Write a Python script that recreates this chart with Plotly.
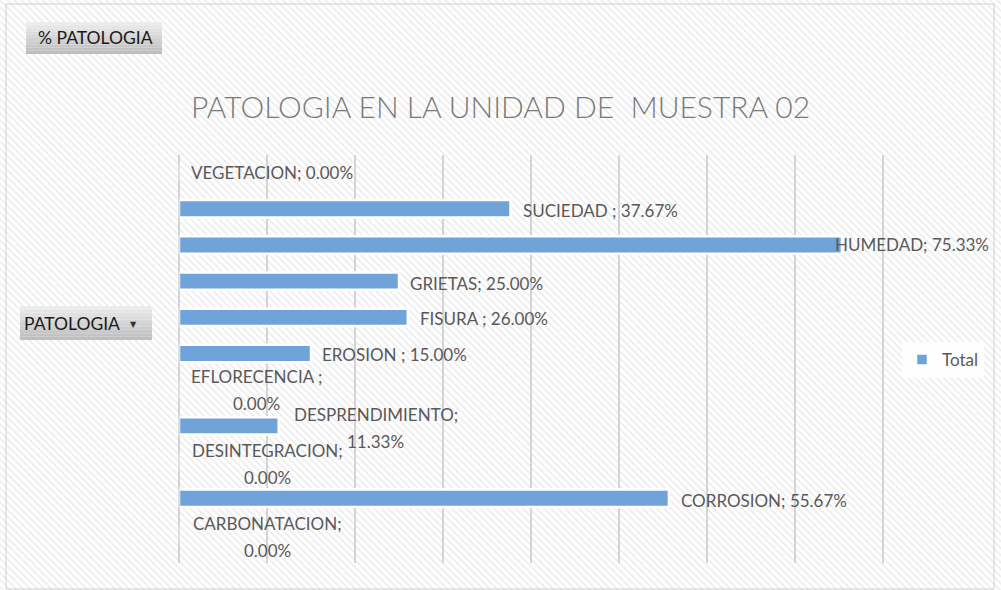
import plotly.graph_objects as go

# ---- data ----
categories = ["CARBONATACION", "CORROSION", "DESINTEGRACION", "DESPRENDIMIENTO",
              "EFLORECENCIA", "EROSION", "FISURA", "GRIETAS", "HUMEDAD",
              "SUCIEDAD", "VEGETACION"]
values = [0.00, 55.67, 0.00, 11.33, 0.00, 15.00, 26.00, 25.00, 75.33, 37.67, 0.00]
label_names = ["CARBONATACION;", "CORROSION;", "DESINTEGRACION;", "DESPRENDIMIENTO;",
               "EFLORECENCIA ;", "EROSION ;", "FISURA ;", "GRIETAS;", "HUMEDAD;",
               "SUCIEDAD ;", "VEGETACION;"]
series_name = "Total"
title_text = "PATOLOGIA EN LA UNIDAD DE  MUESTRA 02"
value_field = "% PATOLOGIA"
category_field = "PATOLOGIA"

# ---- label placement (style only) ----
# (two_lines, xshift_px, yshift_px)
label_style = {
    "CARBONATACION": (True, 88, -2),
    "CORROSION": (False, 10, -2),
    "DESINTEGRACION": (True, 88, -2),
    "DESPRENDIMIENTO": (True, 97, -2),
    "EFLORECENCIA": (True, 77, 0),
    "EROSION": (False, 9, -1),
    "FISURA": (False, 10, -1),
    "GRIETAS": (False, 9, -2),
    "HUMEDAD": (False, -9, 0),
    "SUCIEDAD": (False, 10, -2),
    "VEGETACION": (False, 10, 0),
}

W, H = 1001, 590
FONT = "Lato"
TXT = "#595959"
FS = 17
PAD = 0.25          # small axis padding so edge gridlines are not clipped
PX_PER_UNIT = 8.8
GRID = "#d4d4d4"
Y_DOM = [1 - 562.5 / H, 1 - 154.5 / H]

def px_x(p):
    return p / W

def px_y(p):
    return 1 - p / H

fig = go.Figure()

# hatched background (on the full-page axes)
fig.add_trace(go.Bar(
    x=[0.5], y=[1], width=[1], base=[0], xaxis="x", yaxis="y",
    marker=dict(color="white", line=dict(width=0),
                pattern=dict(shape="\\", fgcolor="#dcdcdc", bgcolor="white",
                             size=5, solidity=0.35)),
    hoverinfo="skip", showlegend=False,
))

# data bars
fig.add_trace(go.Bar(
    x=values, y=categories, orientation="h", name=series_name,
    xaxis="x2", yaxis="y2", width=0.48,
    marker=dict(color="#6fa3da", line=dict(color="white", width=2.5)),
    showlegend=True,
))

annotations = []
for cat, name, v in zip(categories, label_names, values):
    two, xs, ys = label_style[cat]
    vtxt = f"{v:.2f}%"
    if two:
        for txt, dy in ((name, 13.5), (vtxt, -13.5)):
            annotations.append(dict(
                x=v, y=cat, xref="x2", yref="y2", text=txt, showarrow=False,
                xanchor="center", yanchor="middle", xshift=xs, yshift=ys + dy,
                font=dict(family=FONT, size=FS, color=TXT)))
    else:
        annotations.append(dict(
            x=v, y=cat, xref="x2", yref="y2", text=f"{name} {vtxt}", showarrow=False,
            xanchor="left", yanchor="middle", xshift=xs, yshift=ys,
            font=dict(family=FONT, size=FS, color=TXT)))

# pivot field buttons
shapes = []
def button(x0, y0, x1, y1):
    n = 10
    for i in range(n):
        t = i / (n - 1)
        c = int(236 - t * 46)
        shapes.append(dict(type="rect", xref="paper", yref="paper",
                           x0=px_x(x0), x1=px_x(x1),
                           y0=px_y(y0 + (y1 - y0) * (i + 1) / n),
                           y1=px_y(y0 + (y1 - y0) * i / n),
                           fillcolor=f"rgb({c},{c},{c})", line=dict(width=0), layer="above"))

button(26, 22, 162, 54)
button(20, 306, 152, 340)

annotations.append(dict(x=px_x(95), y=px_y(38), xref="paper", yref="paper",
                        text=value_field, showarrow=False, xanchor="center", yanchor="middle",
                        font=dict(family=FONT, size=FS + 0.5, color="#1a1a1a")))
annotations.append(dict(x=px_x(22), y=px_y(323), xref="paper", yref="paper",
                        text=category_field, showarrow=False, xanchor="left", yanchor="middle",
                        font=dict(family=FONT, size=FS + 0.5, color="#1a1a1a")))
annotations.append(dict(x=px_x(133), y=px_y(324), xref="paper", yref="paper",
                        text="\u25BC", showarrow=False, xanchor="center", yanchor="middle",
                        font=dict(family="DejaVu Sans", size=8, color="#333333")))

# value axis line at 0
shapes.append(dict(type="line", xref="x2", yref="paper", x0=0, x1=0,
                   y0=Y_DOM[0], y1=Y_DOM[1], line=dict(color=GRID, width=1.5), layer="above"))

# outer chart border
shapes.append(dict(type="rect", xref="paper", yref="paper",
                   x0=px_x(6), x1=px_x(994), y0=px_y(589), y1=px_y(4),
                   line=dict(color="#d0d0d0", width=1), fillcolor="rgba(0,0,0,0)", layer="above"))

fig.update_layout(
    width=W, height=H, margin=dict(l=0, r=0, t=0, b=0),
    paper_bgcolor="white", plot_bgcolor="rgba(0,0,0,0)",
    showlegend=True,
    title=dict(text=title_text, x=0.5, xanchor="center", y=px_y(107), yanchor="middle",
               font=dict(family=FONT, size=30, color="#7a7a7a", weight=300)),
    xaxis=dict(domain=[0, 1], range=[0, 1], visible=False, fixedrange=True),
    yaxis=dict(domain=[0, 1], range=[0, 1], visible=False, fixedrange=True),
    xaxis2=dict(domain=[px_x(179 - PAD * PX_PER_UNIT), px_x(883 + PAD * PX_PER_UNIT)],
                range=[-PAD, 80 + PAD], dtick=10, tick0=0,
                showgrid=True, gridcolor=GRID, gridwidth=1.5,
                zeroline=False,
                showticklabels=False, ticks="", anchor="y2"),
    yaxis2=dict(domain=Y_DOM, type="category",
                categoryorder="array", categoryarray=categories,
                showgrid=False, showticklabels=False, ticks="", zeroline=False, anchor="x2"),
    legend=dict(x=px_x(902), y=px_y(360), xanchor="left", yanchor="middle",
                bgcolor="rgba(255,255,255,0.85)", borderwidth=0,
                font=dict(family=FONT, size=FS, color=TXT)),
    annotations=annotations,
    shapes=shapes,
    bargap=0.6,
)

fig.write_html("out.html", config={"displayModeBar": False},
               post_script="document.body.style.margin='0';document.body.style.overflow='hidden';")
